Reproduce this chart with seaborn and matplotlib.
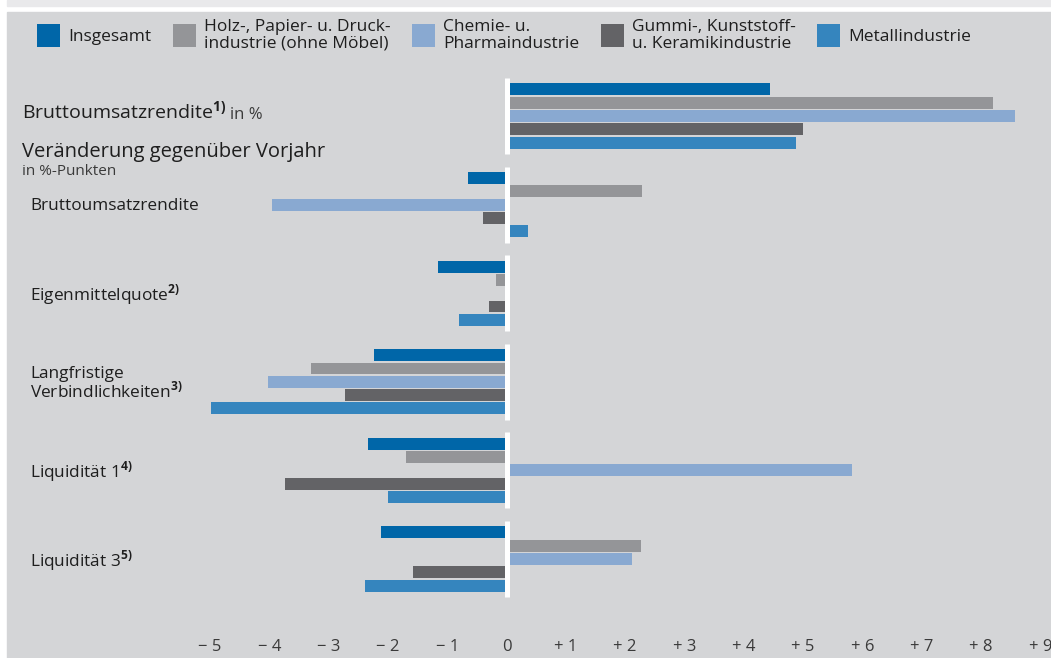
import numpy as np
import pandas as pd
import seaborn as sns
import matplotlib.pyplot as plt
from matplotlib.patches import Rectangle
from matplotlib.ticker import FuncFormatter

# categories (rows) and series (hue)
groups = ["Bruttoumsatzrendite in %", "Bruttoumsatzrendite", "Eigenmittelquote",
          "Langfristige Verbindlichkeiten", "Liquidität 1", "Liquidität 3"]
series = ["Insgesamt",
          "Holz-, Papier- u. Druck-\nindustrie (ohne Möbel)",
          "Chemie- u.\nPharmaindustrie",
          "Gummi-, Kunststoff-\nu. Keramikindustrie",
          "Metallindustrie"]

insgesamt = [4.45, -0.65, -1.15, -2.23, -2.34, -2.12]
holz = [8.2, 2.29, -0.18, -3.29, -1.70, 2.26]
chemie = [8.57, -3.96, 0.0, -4.03, 5.83, 2.12]
gummi = [5.0, -0.39, -0.30, -2.73, -3.74, -1.57]
metall = [4.89, 0.37, -0.80, -4.99, -1.99, -2.39]

colors = ["#0066a8", "#949598", "#89a9d1", "#636366", "#3585be"]

W, H = 1051, 658
BG = "#d4d5d7"
TXT = "#1e1e1e"
TXT2 = "#3a3a3a"

rows = []
for name, vals in zip(series, [insgesamt, holz, chemie, gummi, metall]):
    for g, v in zip(groups, vals):
        rows.append({"group": g, "series": name, "value": v})
df = pd.DataFrame(rows)

sns.set_style("white")
plt.rcParams["font.family"] = ["Open Sans", "DejaVu Sans"]
plt.rcParams["mathtext.fontset"] = "custom"
plt.rcParams["mathtext.rm"] = "Open Sans"
plt.rcParams["mathtext.bf"] = "Open Sans:bold"

fig = plt.figure(figsize=(W / 100, H / 100), dpi=100, facecolor="white")
# light strip on top, gray panel below
fig.patches.append(Rectangle((7 / W, 1 - 6 / H), 1, 6 / H, transform=fig.transFigure,
                             color="#e9e9eb", zorder=-2))
fig.patches.append(Rectangle((7 / W, 0), 1, 1 - 12 / H, transform=fig.transFigure,
                             color=BG, zorder=-2))

ax = fig.add_axes([7 / W, 41 / H, 1 - 7 / W, (617 - 12) / H])
ax.set_facecolor(BG)

sns.barplot(data=df, y="group", x="value", hue="series", orient="h",
            order=groups, hue_order=series, palette=colors, saturation=1,
            width=0.75, gap=0.1, linewidth=0, ax=ax)

# zero line, broken between groups
for i in range(len(groups)):
    ax.vlines(0, i - 0.43, i + 0.43, color="white", lw=3.6, zorder=5)

ax.set_xlim(-(506.5 - 7) / 59.3, (W - 506.5) / 59.3)
ax.set_ylim(5.655, -1.174)
ax.set_yticks([])
ax.set_xticks(range(-5, 10))
ax.xaxis.set_major_formatter(FuncFormatter(
    lambda v, p: "0" if v == 0 else ("+ %d" % v if v > 0 else "\u2212 %d" % -v)))
ax.tick_params(axis="x", length=10.8, width=1.5, color="white", pad=5,
               labelsize=12, labelcolor=TXT2, direction="out")
ax.set_xlabel("")
ax.set_ylabel("")
for s in ax.spines.values():
    s.set_visible(False)

# legend
handles, labels = ax.get_legend_handles_labels()
ax.get_legend().remove()
leg = fig.legend(handles, labels, ncol=5, loc="upper left",
                 bbox_to_anchor=(37 / W, 1 - 19 / H), bbox_transform=fig.transFigure,
                 frameon=False, fontsize=12.5, handlelength=1.32, handleheight=1.66,
                 handletextpad=0.46, columnspacing=1.25, borderpad=0, borderaxespad=0)
for t in leg.get_texts():
    t.set_color(TXT)
    t.set_linespacing(1.05)

# row labels
yt = ax.get_yaxis_transform()
x0 = (22 - 7) / (W - 7)
x1 = (30 - 7) / (W - 7)
t1 = ax.text(x0, 0.08, r"Bruttoumsatzrendite$^{\mathbf{1)}}$", transform=yt,
             fontsize=14, color=TXT, va="bottom", ha="left")
ax.annotate("in %", xy=(1, 0), xycoords=t1, xytext=(3, 0), textcoords="offset points",
            fontsize=12, color=TXT2, va="bottom", ha="left")
ax.text(x0, 0.41, "Veränderung gegenüber Vorjahr", transform=yt,
        fontsize=14.5, color=TXT, va="center", ha="left")
ax.text(x0, 0.63, "in %-Punkten", transform=yt,
        fontsize=11, color=TXT2, va="center", ha="left")

row_labels = ["Bruttoumsatzrendite",
              r"Eigenmittelquote$^{\mathbf{2)}}$",
              "Langfristige\n" + r"Verbindlichkeiten$^{\mathbf{3)}}$",
              r"Liquidität 1$^{\mathbf{4)}}$",
              r"Liquidität 3$^{\mathbf{5)}}$"]
for i, lab in enumerate(row_labels, start=1):
    ax.text(x1, i + 0.02, lab, transform=yt, fontsize=12.4, color=TXT,
            va="center", ha="left", linespacing=1.0)

fig.savefig("out.png", dpi=100, facecolor=fig.get_facecolor())
